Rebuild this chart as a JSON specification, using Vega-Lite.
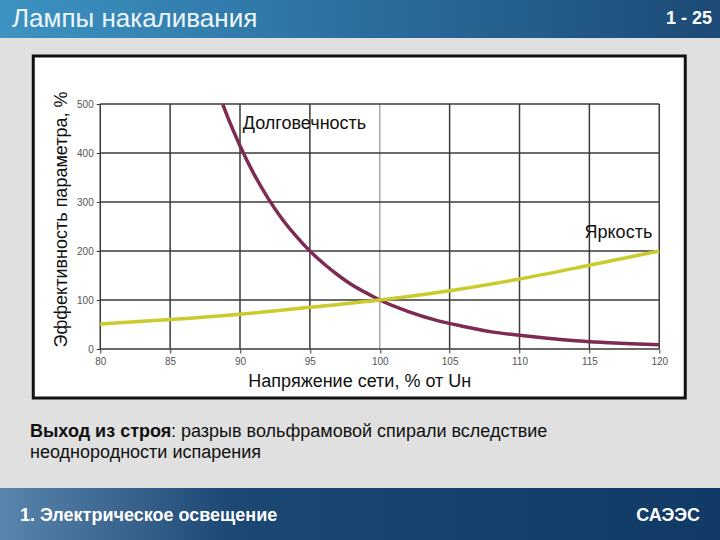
{
  "$schema": "https://vega.github.io/schema/vega-lite/v6.json",
  "background": "#e0e0e0",
  "padding": 0,
  "spacing": 16,
  "center": true,
  "config": {"font": "Liberation Sans", "view": {"stroke": null}},
  "vconcat": [
    {
      "width": 720,
      "height": 38,
      "data": {"values": [{"label": "Лампы накаливания", "p": 0}, {"label": "1 - 25", "p": 1}]},
      "layer": [
        {
          "transform": [{"filter": "datum.p == 0"}],
          "mark": {"type": "rect", "color": {"gradient": "linear", "x1": 0, "x2": 1, "y1": 0, "y2": 0, "stops": [{"offset": 0, "color": "#3d93c3"}, {"offset": 0.45, "color": "#2c72a2"}, {"offset": 1, "color": "#1d4a76"}]}},
          "encoding": {}
        },
        {
          "transform": [{"filter": "datum.p == 0"}],
          "mark": {"type": "text", "align": "left", "dx": 12, "dy": 0, "fontSize": 26, "color": "#eef6fa"},
          "encoding": {"x": {"field": "p", "type": "quantitative", "scale": {"domain": [0, 1]}, "axis": null}, "text": {"field": "label"}}
        },
        {
          "transform": [{"filter": "datum.p == 1"}],
          "mark": {"type": "text", "align": "right", "dx": -8, "dy": 0, "fontSize": 18, "fontWeight": "bold", "color": "#ffffff"},
          "encoding": {"x": {"field": "p", "type": "quantitative", "scale": {"domain": [0, 1]}, "axis": null}, "text": {"field": "label"}}
        }
      ]
    },
    {
      "width": 652,
      "height": 342,
      "view": {"fill": "white", "stroke": "#111111", "strokeWidth": 3},
      "resolve": {"axis": {"x": "independent", "y": "independent"}},
      "layer": [
        {
          "data": {"values": [{"U": 80}, {"U": 85}, {"U": 90}, {"U": 95}, {"U": 100}, {"U": 105}, {"U": 110}, {"U": 115}, {"U": 120}]},
          "mark": {"type": "rule", "strokeWidth": 1.5},
          "encoding": {
            "x": {"field": "U", "type": "quantitative", "scale": {"domain": [75.206, 121.86], "nice": false, "zero": false}, "axis": null},
            "y": {"datum": 0, "type": "quantitative", "scale": {"domain": [-100, 598], "nice": false, "zero": false}, "axis": null},
            "y2": {"datum": 500},
            "color": {"condition": {"test": "datum.U == 100", "value": "#a8a8a8"}, "value": "#3a3a3a"}
          }
        },
        {
          "data": {"values": [{"value": 0}, {"value": 100}, {"value": 200}, {"value": 300}, {"value": 400}, {"value": 500}]},
          "mark": {"type": "rule", "strokeWidth": 1.5, "color": "#3a3a3a"},
          "encoding": {
            "y": {"field": "value", "type": "quantitative", "scale": {"domain": [-100, 598], "nice": false, "zero": false}, "axis": null},
            "x": {"datum": 80, "type": "quantitative", "scale": {"domain": [75.206, 121.86], "nice": false, "zero": false}, "axis": null},
            "x2": {"datum": 120}
          }
        },
        {
          "data": {"values": [
            {"U": 88.76, "value": 500, "series": "Долговечность"},
            {"U": 89, "value": 482, "series": "Долговечность"},
            {"U": 90, "value": 415, "series": "Долговечность"},
            {"U": 91, "value": 357, "series": "Долговечность"},
            {"U": 92, "value": 308, "series": "Долговечность"},
            {"U": 93, "value": 266, "series": "Долговечность"},
            {"U": 94, "value": 231, "series": "Долговечность"},
            {"U": 95, "value": 200, "series": "Долговечность"},
            {"U": 96, "value": 174, "series": "Долговечность"},
            {"U": 97, "value": 151, "series": "Долговечность"},
            {"U": 98, "value": 131, "series": "Долговечность"},
            {"U": 99, "value": 115, "series": "Долговечность"},
            {"U": 100, "value": 100, "series": "Долговечность"},
            {"U": 102, "value": 77, "series": "Долговечность"},
            {"U": 104, "value": 59, "series": "Долговечность"},
            {"U": 106, "value": 46, "series": "Долговечность"},
            {"U": 108, "value": 35, "series": "Долговечность"},
            {"U": 110, "value": 28, "series": "Долговечность"},
            {"U": 112, "value": 22, "series": "Долговечность"},
            {"U": 114, "value": 17, "series": "Долговечность"},
            {"U": 116, "value": 13.5, "series": "Долговечность"},
            {"U": 118, "value": 10.7, "series": "Долговечность"},
            {"U": 120, "value": 8.5, "series": "Долговечность"},
            {"U": 80, "value": 51, "series": "Яркость"},
            {"U": 85, "value": 60, "series": "Яркость"},
            {"U": 90, "value": 71, "series": "Яркость"},
            {"U": 95, "value": 85, "series": "Яркость"},
            {"U": 100, "value": 100, "series": "Яркость"},
            {"U": 105, "value": 119, "series": "Яркость"},
            {"U": 110, "value": 143, "series": "Яркость"},
            {"U": 115, "value": 171, "series": "Яркость"},
            {"U": 120, "value": 200, "series": "Яркость"}
          ]},
          "mark": {"type": "line", "strokeWidth": 3.5, "interpolate": "monotone"},
          "encoding": {
            "x": {"field": "U", "type": "quantitative", "scale": {"domain": [75.206, 121.86], "nice": false, "zero": false},
              "axis": {"title": "Напряжение сети, % от Uн", "values": [80, 85, 90, 95, 100, 105, 110, 115, 120], "offset": -49, "domain": false, "grid": false, "ticks": true, "tickSize": 4, "tickColor": "#333333", "labelFontSize": 10, "labelColor": "#555555", "labelPadding": 3, "labelFlush": false, "titleFontSize": 18, "titleFontWeight": "normal", "titleColor": "#111111", "titlePadding": 6}},
            "y": {"field": "value", "type": "quantitative", "scale": {"domain": [-100, 598], "nice": false, "zero": false},
              "axis": {"title": "Эффективность параметра, %", "values": [0, 100, 200, 300, 400, 500], "offset": -67, "domain": false, "grid": false, "ticks": true, "tickSize": 4, "tickColor": "#333333", "labelFontSize": 10, "labelColor": "#555555", "labelPadding": 3, "labelFlush": false, "titleFontSize": 18, "titleFontWeight": "normal", "titleColor": "#111111", "titlePadding": 6, "titleY": 163}},
            "color": {"field": "series", "type": "nominal", "scale": {"domain": ["Долговечность", "Яркость"], "range": ["#7d2b52", "#c9cc2c"]}, "legend": null}
          }
        },
        {
          "data": {"values": [{"U": 90.2, "value": 459, "label": "Долговечность"}]},
          "mark": {"type": "text", "align": "left", "fontSize": 18, "color": "#111111"},
          "encoding": {
            "x": {"field": "U", "type": "quantitative", "axis": null},
            "y": {"field": "value", "type": "quantitative", "axis": null},
            "text": {"field": "label"}
          }
        },
        {
          "data": {"values": [{"U": 119.5, "value": 237, "label": "Яркость"}]},
          "mark": {"type": "text", "align": "right", "fontSize": 18, "color": "#111111"},
          "encoding": {
            "x": {"field": "U", "type": "quantitative", "axis": null},
            "y": {"field": "value", "type": "quantitative", "axis": null},
            "text": {"field": "label"}
          }
        }
      ]
    },
    {
      "width": 720,
      "height": 56,
      "data": {"values": [
        {"line": 1, "p": 0, "part": "bold", "text": "Выход из строя"},
        {"line": 1, "p": 0, "part": "rest", "text": ": разрыв вольфрамовой спирали вследствие"},
        {"line": 2, "p": 0, "part": "rest2", "text": "неоднородности испарения"}
      ]},
      "encoding": {
        "x": {"field": "p", "type": "quantitative", "scale": {"domain": [0, 1]}, "axis": null},
        "y": {"field": "line", "type": "ordinal", "scale": {"type": "point", "range": [16, 37], "padding": 0}, "axis": null},
        "text": {"field": "text"}
      },
      "layer": [
        {"transform": [{"filter": "datum.part == 'bold'"}], "mark": {"type": "text", "align": "left", "dx": 30, "fontSize": 18, "fontWeight": "bold", "color": "#111111"}},
        {"transform": [{"filter": "datum.part == 'rest'"}], "mark": {"type": "text", "align": "left", "dx": 171, "fontSize": 18, "color": "#111111"}},
        {"transform": [{"filter": "datum.part == 'rest2'"}], "mark": {"type": "text", "align": "left", "dx": 30, "fontSize": 18, "color": "#111111"}}
      ]
    },
    {
      "width": 720,
      "height": 56,
      "data": {"values": [{"label": "1. Электрическое освещение", "p": 0}, {"label": "САЭЭС", "p": 1}]},
      "layer": [
        {
          "transform": [{"filter": "datum.p == 0"}],
          "mark": {"type": "rect", "color": {"gradient": "linear", "x1": 0, "x2": 1, "y1": 0, "y2": 0, "stops": [{"offset": 0, "color": "#5a86ad"}, {"offset": 0.32, "color": "#1c4874"}, {"offset": 1, "color": "#113a66"}]}},
          "encoding": {}
        },
        {
          "transform": [{"filter": "datum.p == 0"}],
          "mark": {"type": "text", "align": "left", "dx": 20, "dy": 0, "fontSize": 18, "fontWeight": "bold", "color": "#ffffff"},
          "encoding": {"x": {"field": "p", "type": "quantitative", "scale": {"domain": [0, 1]}, "axis": null}, "text": {"field": "label"}}
        },
        {
          "transform": [{"filter": "datum.p == 1"}],
          "mark": {"type": "text", "align": "right", "dx": -20, "dy": 0, "fontSize": 18, "fontWeight": "bold", "color": "#ffffff"},
          "encoding": {"x": {"field": "p", "type": "quantitative", "scale": {"domain": [0, 1]}, "axis": null}, "text": {"field": "label"}}
        }
      ]
    }
  ]
}
